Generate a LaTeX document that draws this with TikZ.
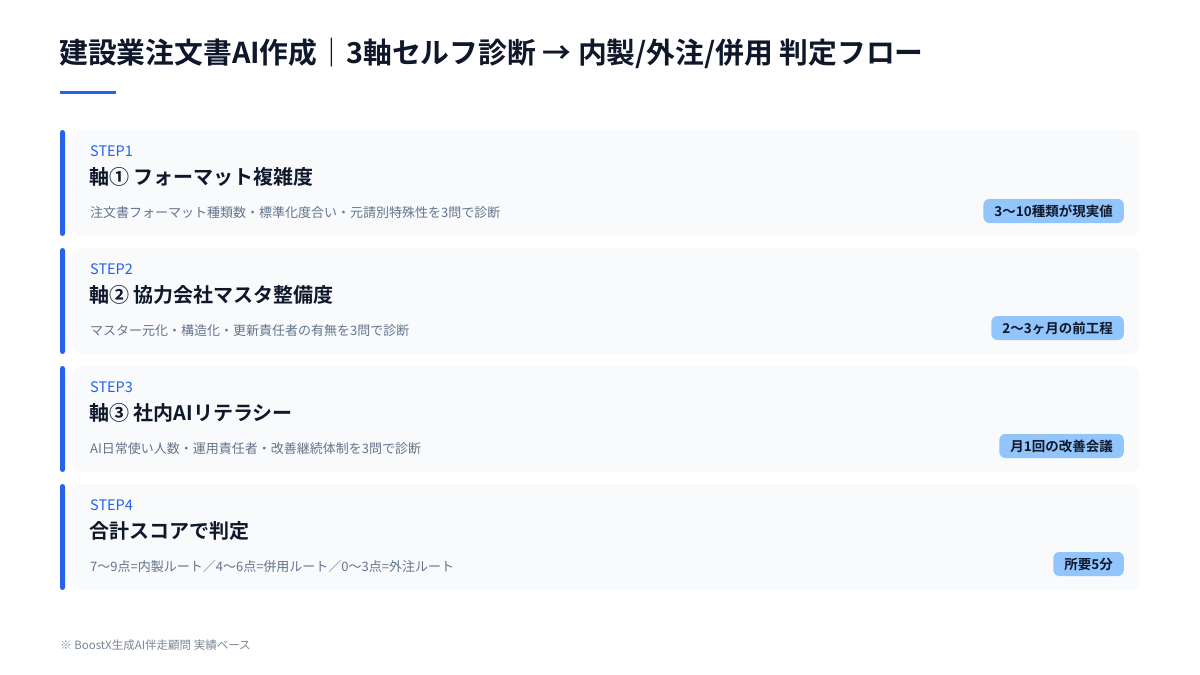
\documentclass[tikz,border=0pt]{standalone}
\usepackage{fontspec}
\setmainfont{Noto Sans CJK JP}
\newfontfamily\jpbold{Noto Sans CJK JP Bold}
\definecolor{accent}{HTML}{2563EB}
\definecolor{ink}{HTML}{0F172A}
\definecolor{muted}{HTML}{64748B}
\definecolor{cardbg}{HTML}{F8FAFC}
\definecolor{badgebg}{HTML}{93C5FD}
\definecolor{foot}{HTML}{7B8798}
\tikzset{
  card/.style={fill=cardbg, draw=none, rounded corners=10pt},
  bar/.style={fill=accent, draw=none, rounded corners=2.5pt},
  steplbl/.style={anchor=west, inner sep=0pt, text=accent, font=\fontsize{14.5}{16}\selectfont},
  cardtitle/.style={anchor=west, inner sep=0pt, text=ink, font=\fontsize{20}{24}\selectfont\jpbold},
  carddesc/.style={anchor=west, inner sep=0pt, text=muted, font=\fontsize{13}{16}\selectfont},
  badge/.style={anchor=east, fill=badgebg, rounded corners=6pt, text=ink, inner xsep=11pt, minimum height=24pt, inner ysep=0pt, font=\fontsize{13.5}{15}\selectfont\jpbold},
}
\begin{document}
\begin{tikzpicture}[x=1pt,y=-1pt]
\useasboundingbox[fill=white] (0,0) rectangle (1200,675);
\node[anchor=west, inner sep=0pt, text=ink, font=\fontsize{28.8}{32}\selectfont\jpbold] (title) at (59,53) {建設業注文書AI作成｜3軸セルフ診断 → 内製/外注/併用 判定フロー};
\fill[accent] (60,90.5) rectangle (116,94) coordinate (uline);
% cards
\foreach \i/\y in {1/130,2/248,3/366,4/484}{
  \fill[card] (72,\y) rectangle (1140,\y+106);
  \fill[bar] (60,\y) rectangle (65,\y+106);
}
\node[steplbl] (s1) at (90,151) {STEP1};
\node[cardtitle] (t1) at (89,177) {軸① フォーマット複雑度};
\node[carddesc] (d1) at (90,213) {注文書フォーマット種類数・標準化度合い・元請別特殊性を3問で診断};
\node[badge] (b1) at (1124,211) {3〜10種類が現実値};

\node[steplbl] (s2) at (90,269) {STEP2};
\node[cardtitle] (t2) at (89,295) {軸② 協力会社マスタ整備度};
\node[carddesc] (d2) at (90,331) {マスター元化・構造化・更新責任者の有無を3問で診断};
\node[badge] (b2) at (1124,328) {2〜3ヶ月の前工程};

\node[steplbl] (s3) at (90,387) {STEP3};
\node[cardtitle] (t3) at (89,413) {軸③ 社内AIリテラシー};
\node[carddesc] (d3) at (90,449) {AI日常使い人数・運用責任者・改善継続体制を3問で診断};
\node[badge] (b3) at (1124,446) {月1回の改善会議};

\node[steplbl] (s4) at (90,505) {STEP4};
\node[cardtitle] (t4) at (89,531) {合計スコアで判定};
\node[carddesc] (d4) at (90,567) {7〜9点=内製ルート／4〜6点=併用ルート／0〜3点=外注ルート};
\node[badge] (b4) at (1124,564) {所要5分};

\node[anchor=west, inner sep=0pt, text=foot, font=\fontsize{11.5}{13}\selectfont] (foot) at (60,645) {※ BoostX生成AI伴走顧問 実績ベース};
\end{tikzpicture}
\end{document}
